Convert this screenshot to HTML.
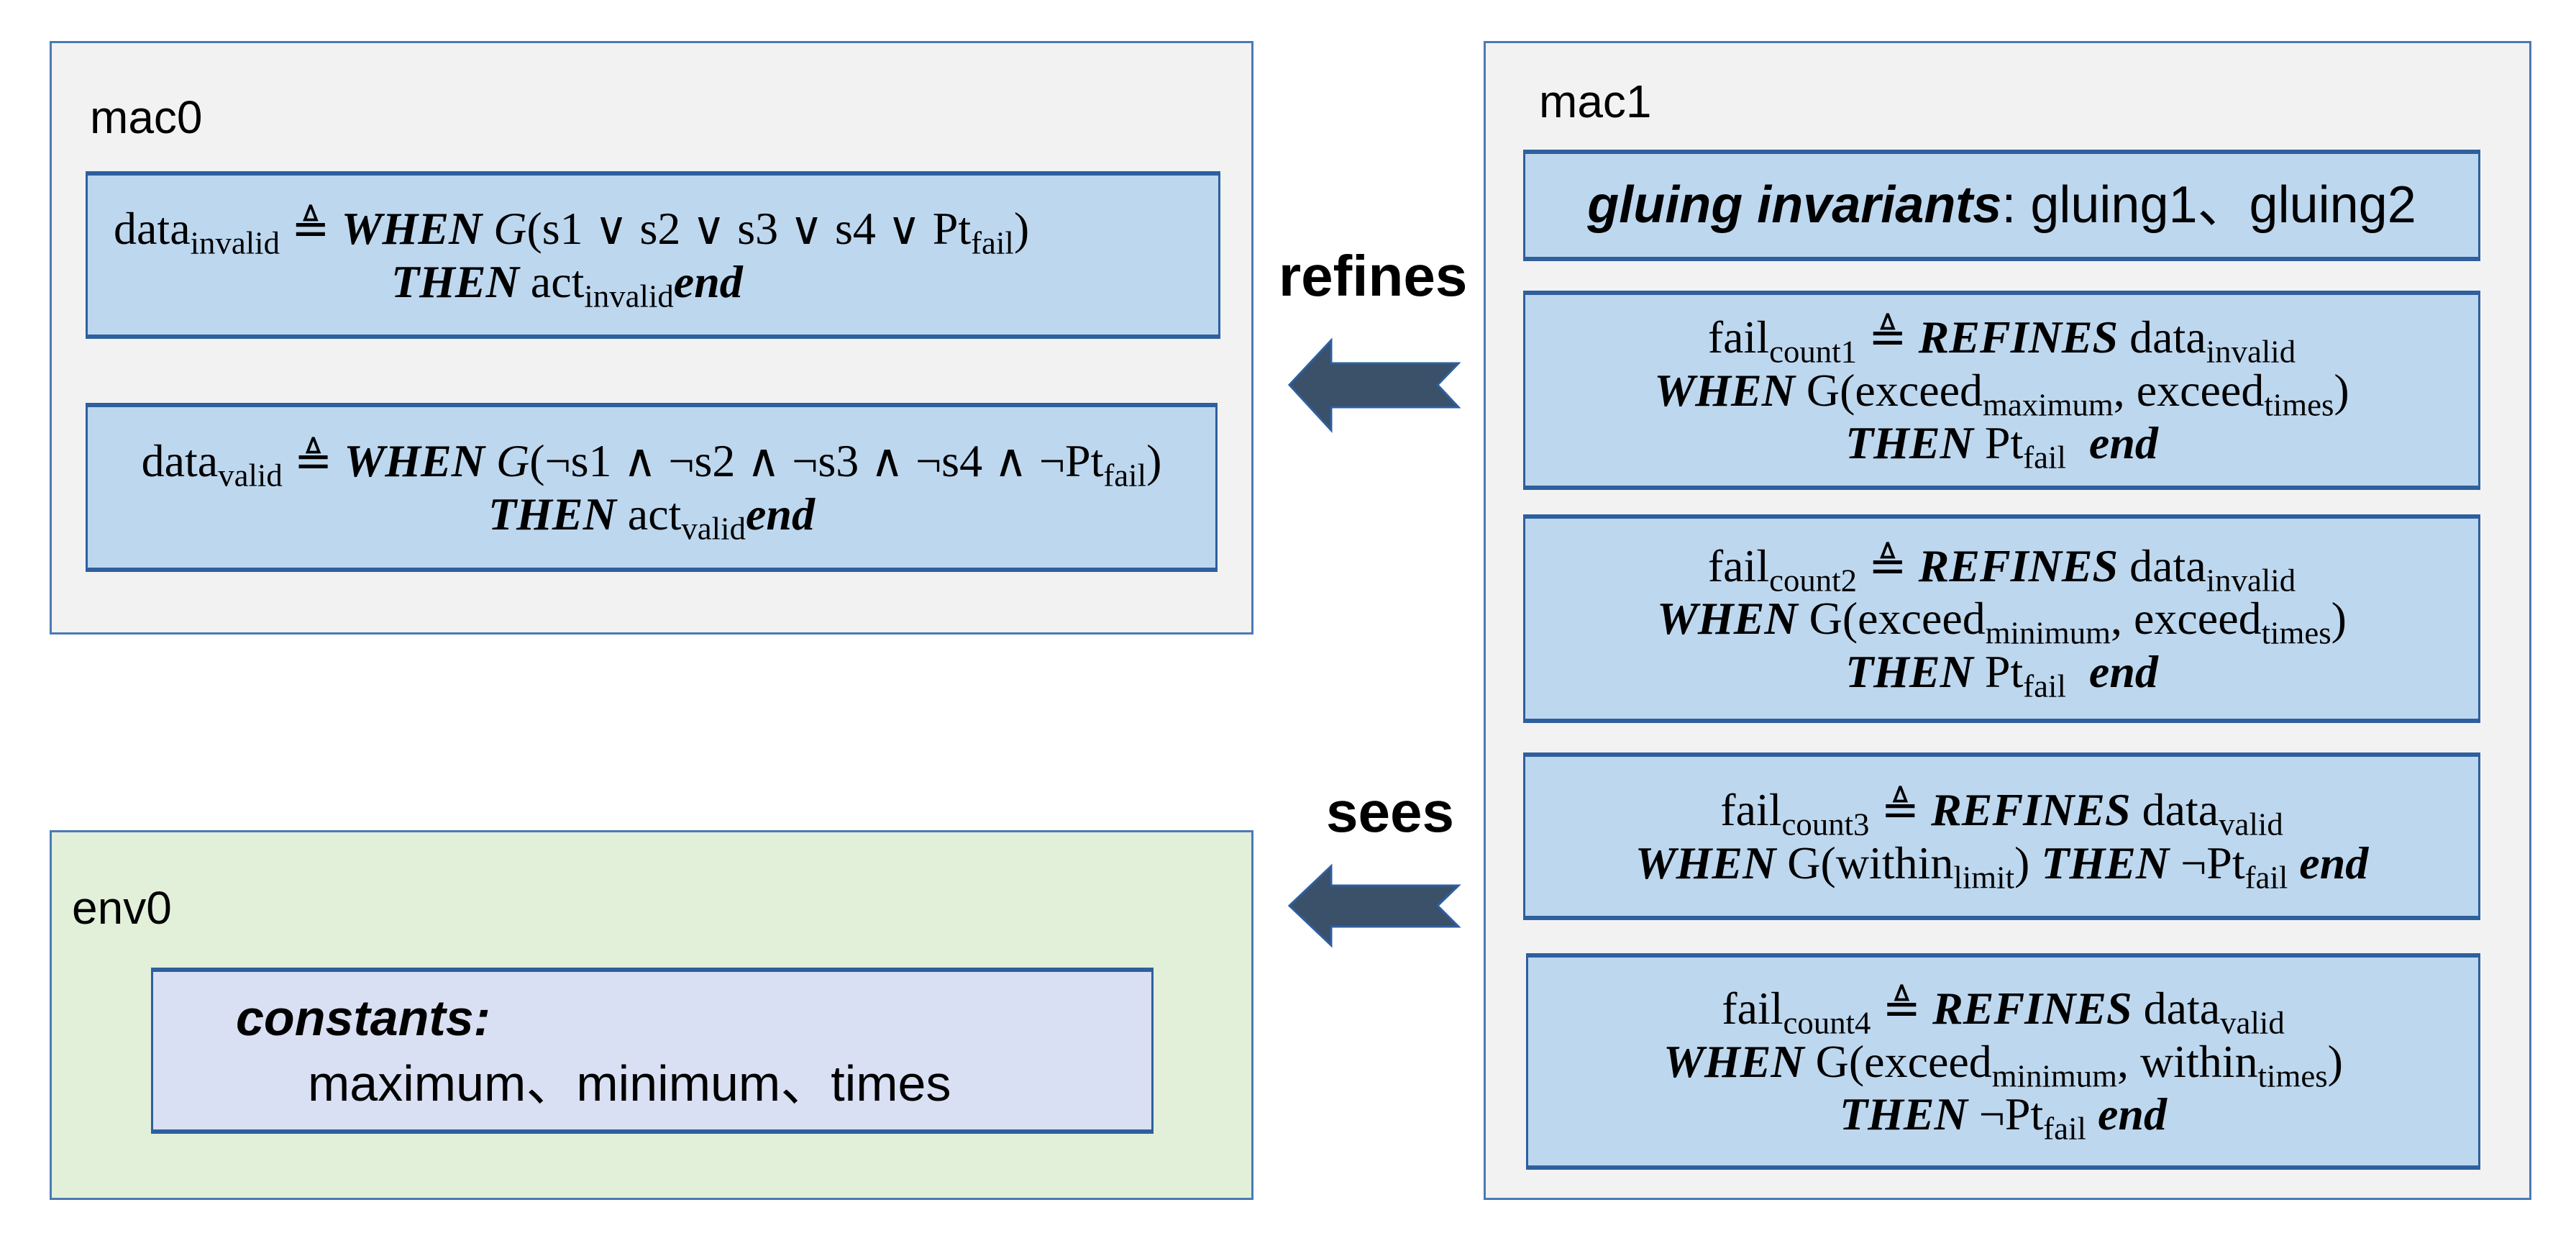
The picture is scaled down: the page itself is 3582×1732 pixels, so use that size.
<!DOCTYPE html>
<html><head><meta charset="utf-8"><style>
body{margin:0;width:3582px;height:1732px;background:#fff;position:relative;overflow:hidden;font-family:"Liberation Serif",serif;}
.b{position:absolute;box-sizing:border-box;}
.outer{background:#f2f2f2;border:3px solid #4a7ab5;}
.inner{background:#bdd7ee;border:3px solid #2e5f9e;border-top-width:6px;border-bottom-width:6px;display:flex;flex-direction:column;justify-content:center;align-items:center;text-align:center;font-size:64px;line-height:1.15;color:#000;white-space:nowrap;}
.t{font-family:"Liberation Sans",sans-serif;font-size:64px;position:absolute;}
.k{font-weight:bold;font-style:italic;}
sub{font-size:0.7em;vertical-align:-0.3em;line-height:0;}
.lbl{position:absolute;font-family:"Liberation Sans",sans-serif;font-weight:bold;font-size:80px;}
</style></head><body>

<div class="b outer" style="left:69px;top:57px;width:1674px;height:825px;"></div>
<div class="t" style="left:125px;top:126px;">mac0</div>
<div class="b inner" style="left:119px;top:238px;width:1578px;height:233px;align-items:flex-start;padding-left:36px;">
<div>data<sub>invalid</sub> ≜ <span class="k">WHEN</span> <i>G</i>(s1 ∨ s2 ∨ s3 ∨ s4 ∨ Pt<sub>fail</sub>)</div>
<div style="padding-left:386px;"><span class="k">THEN</span> act<sub>invalid</sub><span class="k">end</span></div>
</div>
<div class="b inner" style="left:119px;top:560px;width:1574px;height:235px;">
<div>data<sub>valid</sub> ≜ <span class="k">WHEN</span> <i>G</i>(¬s1 ∧ ¬s2 ∧ ¬s3 ∧ ¬s4 ∧ ¬Pt<sub>fail</sub>)</div>
<div><span class="k">THEN</span> act<sub>valid</sub><span class="k">end</span></div>
</div>

<div class="b outer" style="left:69px;top:1154px;width:1674px;height:514px;background:#e2f0d9;"></div>
<div class="t" style="left:100px;top:1225px;">env0</div>
<div class="b inner" style="left:210px;top:1345px;width:1394px;height:231px;background:#dae0f3;align-items:flex-start;font-family:'Liberation Sans','Noto Sans CJK SC',sans-serif;font-size:70px;line-height:1.3;padding-left:115px;">
<div><b><i>constants:</i></b></div>
<div style="padding-left:100px;">maximum、minimum、times</div>
</div>

<div class="b outer" style="left:2063px;top:57px;width:1457px;height:1611px;"></div>
<div class="t" style="left:2140px;top:104px;">mac1</div>
<div class="b inner" style="left:2118px;top:208px;width:1331px;height:155px;font-family:'Liberation Sans','Noto Sans CJK SC',sans-serif;font-size:72px;">
<div><b><i>gluing invariants</i></b>: gluing1、gluing2</div>
</div>
<div class="b inner" style="left:2118px;top:404px;width:1331px;height:277px;">
<div>fail<sub>count1</sub> ≜ <span class="k">REFINES</span> data<sub>invalid</sub></div>
<div><span class="k">WHEN</span> G(exceed<sub>maximum</sub>, exceed<sub>times</sub>)</div>
<div><span class="k">THEN</span> Pt<sub>fail</sub> &nbsp;<span class="k">end</span></div>
</div>
<div class="b inner" style="left:2118px;top:715px;width:1331px;height:290px;">
<div>fail<sub>count2</sub> ≜ <span class="k">REFINES</span> data<sub>invalid</sub></div>
<div><span class="k">WHEN</span> G(exceed<sub>minimum</sub>, exceed<sub>times</sub>)</div>
<div><span class="k">THEN</span> Pt<sub>fail</sub> &nbsp;<span class="k">end</span></div>
</div>
<div class="b inner" style="left:2118px;top:1046px;width:1331px;height:233px;">
<div>fail<sub>count3</sub> ≜ <span class="k">REFINES</span> data<sub>valid</sub></div>
<div><span class="k">WHEN</span> G(within<sub>limit</sub>) <span class="k">THEN</span> ¬Pt<sub>fail</sub> <span class="k">end</span></div>
</div>
<div class="b inner" style="left:2122px;top:1325px;width:1327px;height:301px;">
<div>fail<sub>count4</sub> ≜ <span class="k">REFINES</span> data<sub>valid</sub></div>
<div><span class="k">WHEN</span> G(exceed<sub>minimum</sub>, within<sub>times</sub>)</div>
<div><span class="k">THEN</span> ¬Pt<sub>fail</sub> <span class="k">end</span></div>
</div>

<div class="lbl" style="left:1778px;top:338px;">refines</div>
<div class="lbl" style="left:1844px;top:1083px;">sees</div>
<svg style="position:absolute;left:0;top:0" width="3582" height="1732">
<polygon points="1793,535 1851,473 1851,505 2028,505 1999,535 2028,566 1851,566 1851,598" fill="#3b5069" stroke="#2e5f9e" stroke-width="3"/>
<polygon points="1793,1259 1851,1204 1851,1231 2028,1231 1999,1259 2028,1288 1851,1288 1851,1314" fill="#3b5069" stroke="#2e5f9e" stroke-width="3"/>
</svg>
</body></html>
